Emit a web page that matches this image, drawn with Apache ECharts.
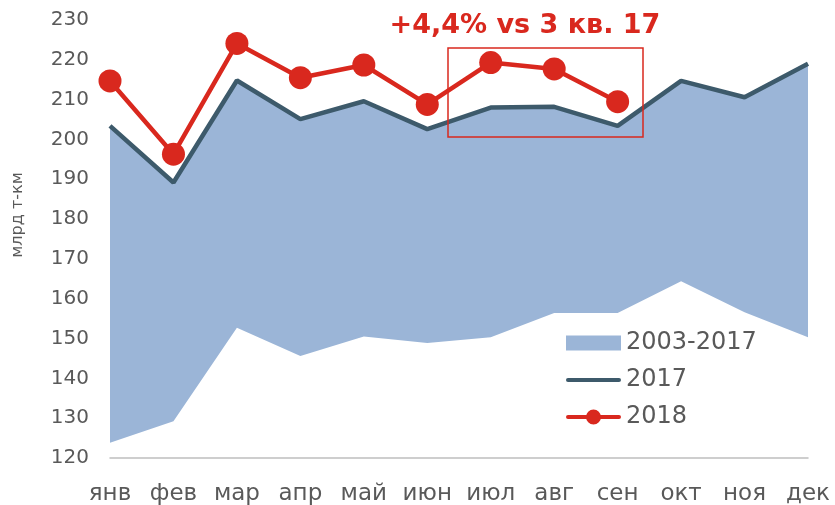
<!DOCTYPE html>
<html>
<head>
<meta charset="utf-8">
<script src="https://cdn.jsdelivr.net/npm/echarts@6/dist/echarts.min.js"></script>
<style>
	html, body { margin: 0; padding: 0; background: #fff; }
	#chart { width: 835px; height: 505px; }
</style>
</head>
<body>
<div id="chart"></div>
<script>
//месяцы
var months = ['янв', 'фев', 'мар', 'апр', 'май', 'июн', 'июл', 'авг', 'сен', 'окт', 'ноя', 'дек'];

//диапазон 2003-2017 (мин и макс)
var rangeMin = [123.8, 129.2, 152.7, 145.6, 150.5, 148.9, 150.3, 156.4, 156.4, 164.4, 156.6, 150.3];
var rangeMax = [203.4, 189.2, 214.8, 205.1, 209.6, 202.6, 208.0, 208.2, 203.4, 214.7, 210.6, 219.0];

var y2017 = [203.4, 189.2, 214.8, 205.1, 209.6, 202.6, 208.0, 208.2, 203.4, 214.7, 210.6, 219.0];
var y2018 = [214.7, 196.3, 224.1, 215.5, 218.7, 208.8, 219.3, 217.7, 209.5];

var yTicks = [120, 130, 140, 150, 160, 170, 180, 190, 200, 210, 220, 230];

var bandHeight = rangeMax.map(function(v, i){ return +(v - rangeMin[i]).toFixed(1); });

var textColor = '#595959';
var fontFamily = 'DejaVu Sans, Verdana, sans-serif';

//значки легенды: линия и линия с кружком
var iconLine = 'path://M0,0M55,15M2,5.5h51a2,2 0 0 1 0,4h-51a2,2 0 0 1 0,-4z';
var iconLineDot = 'path://M0,0M55,15M2,5.5h51a2,2 0 0 1 0,4h-51a2,2 0 0 1 0,-4z M20,7.5a7.5,7.5 0 1 1 15,0a7.5,7.5 0 1 1 -15,0z';

var chart = echarts.init(document.getElementById('chart'));

option = {
	animation: false,
	textStyle: { fontFamily: fontFamily },
	grid: {
		left: 110, right: 27, top: 20, bottom: 47,
		containLabel: false,
		outerBoundsMode: 'none'
	},
	legend: {
		orient: 'vertical',
		left: 566,
		top: 329,
		padding: 0,
		itemWidth: 55,
		itemHeight: 15,
		itemGap: 9,
		textStyle: { color: textColor, fontSize: 24, fontFamily: fontFamily, lineHeight: 28 },
		data: [
			{ name: '2003-2017', icon: 'rect' },
			{ name: '2017', icon: iconLine },
			{ name: '2018', icon: iconLineDot }
		]
	},
	xAxis: {
		type: 'category',
		data: months,
		boundaryGap: false,
		axisLine: { lineStyle: { color: '#bfbfbf', width: 1.5 } },
		axisTick: { show: false },
		axisLabel: { color: textColor, fontSize: 23, margin: 25, interval: 0 }
	},
	yAxis: {
		type: 'value',
		min: yTicks[0],
		max: yTicks[yTicks.length - 1],
		interval: 10,
		axisLine: { show: false },
		axisTick: { show: false },
		splitLine: { show: false },
		axisLabel: { color: textColor, fontSize: 20, margin: 21 }
	},
	graphic: [
		{
			type: 'text',
			rotation: Math.PI / 2,
			style: { text: 'млрд т-км', fill: textColor, font: '16px ' + fontFamily, align: 'center', verticalAlign: 'middle' },
			x: 18, y: 215
		},
		{
			type: 'text',
			x: 525, y: 26,
			style: { text: '+4,4% vs 3 кв. 17', fill: '#d9281e', font: 'bold 27px ' + fontFamily, align: 'center', verticalAlign: 'middle' }
		},
		{
			type: 'rect',
			shape: { x: 448, y: 48, width: 195, height: 89 },
			style: { fill: 'none', stroke: '#d9281e', lineWidth: 1.5 },
			z: 10
		}
	],
	series: [
		{
			name: 'min',
			type: 'line',
			stack: 'band',
			data: rangeMin,
			symbol: 'none',
			lineStyle: { opacity: 0 },
			silent: true
		},
		{
			name: '2003-2017',
			type: 'line',
			stack: 'band',
			data: bandHeight,
			symbol: 'none',
			itemStyle: { color: '#9bb5d7' },
			lineStyle: { width: 0, color: '#9bb5d7' },
			areaStyle: { color: '#9bb5d7', opacity: 1 }
		},
		{
			name: '2017',
			type: 'line',
			data: y2017,
			symbol: 'none',
			itemStyle: { color: '#3d5a6b' },
			lineStyle: { color: '#3d5a6b', width: 4.5 },
			z: 3
		},
		{
			name: '2018',
			type: 'line',
			data: y2018,
			symbol: 'circle',
			symbolSize: 23,
			itemStyle: { color: '#d9281e' },
			lineStyle: { color: '#d9281e', width: 4.5 },
			z: 4
		}
	]
};
chart.setOption(option);
</script>
</body>
</html>
